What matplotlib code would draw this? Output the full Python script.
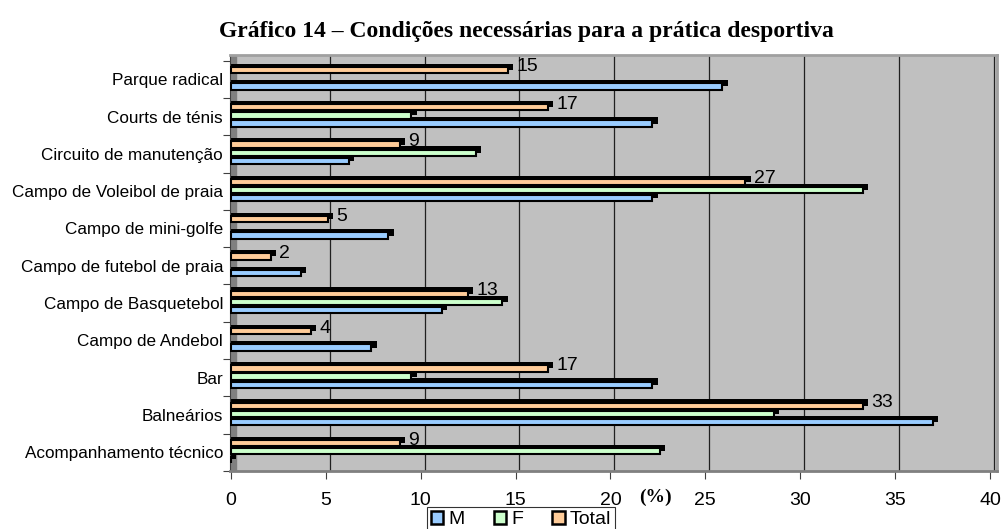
import matplotlib.pyplot as plt
import numpy as np
from matplotlib.patches import Patch

categories = ["Acompanhamento técnico", "Balneários", "Bar", "Campo de Andebol",
              "Campo de Basquetebol", "Campo de futebol de praia", "Campo de mini-golfe",
              "Campo de Voleibol de praia", "Circuito de manutenção", "Courts de ténis",
              "Parque radical"]
# None = no answer in that group (no bar drawn)
m_vals = [0, 37.0, 22.2, 7.4, 11.1, 3.7, 8.3, 22.2, 6.2, 22.2, 25.9]
f_vals = [22.6, 28.6, 9.5, None, 14.3, None, None, 33.3, 12.9, 9.5, None]
total_vals = [8.9, 33.3, 16.7, 4.2, 12.5, 2.1, 5.1, 27.1, 8.9, 16.7, 14.6]
total_labels = ["9", "33", "17", "4", "13", "2", "5", "27", "9", "17", "15"]
xticks = [0, 5, 10, 15, 20, 25, 30, 35, 40]

c_m = "#99CCFF"
c_f = "#CCFFCC"
c_t = "#FFCC99"

fig = plt.figure(figsize=(10.05, 5.29), dpi=100)
ax = fig.add_axes([230 / 1005, 1 - 471 / 529, 767 / 1005, 416 / 529])
ax.set_facecolor("#C0C0C0")

y = np.arange(len(categories))
h = 0.17
depth_x, depth_y = 0.28, 0.085

# back wall gridlines (shifted a bit, like the 3D chart)
for t in xticks[1:]:
    ax.axvline(t + 0.2, color="#202020", lw=0.9, zorder=1)
ax.axvspan(-0.05, 0.27, color="#808080", zorder=1.5)

series = [(m_vals, c_m, -0.19), (f_vals, c_f, 0.03), (total_vals, c_t, 0.25)]
for vals, col, off in series:
    keep = [i for i, v in enumerate(vals) if v is not None]
    yy = y[keep] + off
    vv = np.array([vals[i] for i in keep])
    # shadow / depth of the bar
    ax.barh(yy + depth_y, vv + depth_x, height=h, left=0, color="black", zorder=2)
    ax.barh(yy, vv, height=h, left=0, color=col, edgecolor="black",
            linewidth=1.5, zorder=3)

for yi, v, lab in zip(y, total_vals, total_labels):
    ax.text(v + 0.45, yi + 0.33, lab, fontsize=14, family="Liberation Sans",
            ha="left", va="center", zorder=4)

ax.set_xlim(-0.05, 40.37)
ax.set_ylim(-0.37, 10.65)
ax.set_xticks(xticks)
ax.set_xticklabels([str(t) for t in xticks], fontsize=14, family="Liberation Sans")
ax.tick_params(axis="x", length=6, pad=9, color="#404040")

ax.set_yticks(np.arange(len(categories) + 1) - 0.5)
ax.set_yticklabels([])
ax.tick_params(axis="y", which="major", length=5, color="#404040")
ax.set_yticks(y, minor=True)
ax.set_yticklabels(categories, minor=True, fontsize=12.3, family="Liberation Sans")
ax.tick_params(axis="y", which="minor", length=0, pad=5)

for s in ["top", "right"]:
    ax.spines[s].set_color("#A0A0A0")
    ax.spines[s].set_linewidth(2)
ax.spines["left"].set_color("#404040")
ax.spines["bottom"].set_color("#808080")
ax.spines["bottom"].set_linewidth(2)

fig.text(526 / 1005, 1 - 31 / 529, "Gráfico 14 – Condições necessárias para a prática desportiva",
         family="Liberation Serif", weight="bold", fontsize=17, ha="center", va="center")
fig.text(655 / 1005, 1 - 497 / 529, "(%)", family="Liberation Serif", weight="bold",
         fontsize=14, ha="center", va="center")

handles = [Patch(facecolor=c_m, edgecolor="black", lw=1.8, label="M"),
           Patch(facecolor=c_f, edgecolor="black", lw=1.8, label="F"),
           Patch(facecolor=c_t, edgecolor="black", lw=1.8, label="Total")]
leg = fig.legend(handles=handles, loc="lower center", bbox_to_anchor=(521 / 1005, -0.006),
                 ncol=3, prop={"family": "Liberation Sans", "size": 14},
                 frameon=True, fancybox=False, edgecolor="black", handlelength=0.65,
                 handleheight=0.65, handletextpad=0.25, columnspacing=1.5,
                 borderpad=0.2, borderaxespad=0)
leg.get_frame().set_linewidth(0.8)

fig.savefig("out.png", dpi=100, facecolor="white")
